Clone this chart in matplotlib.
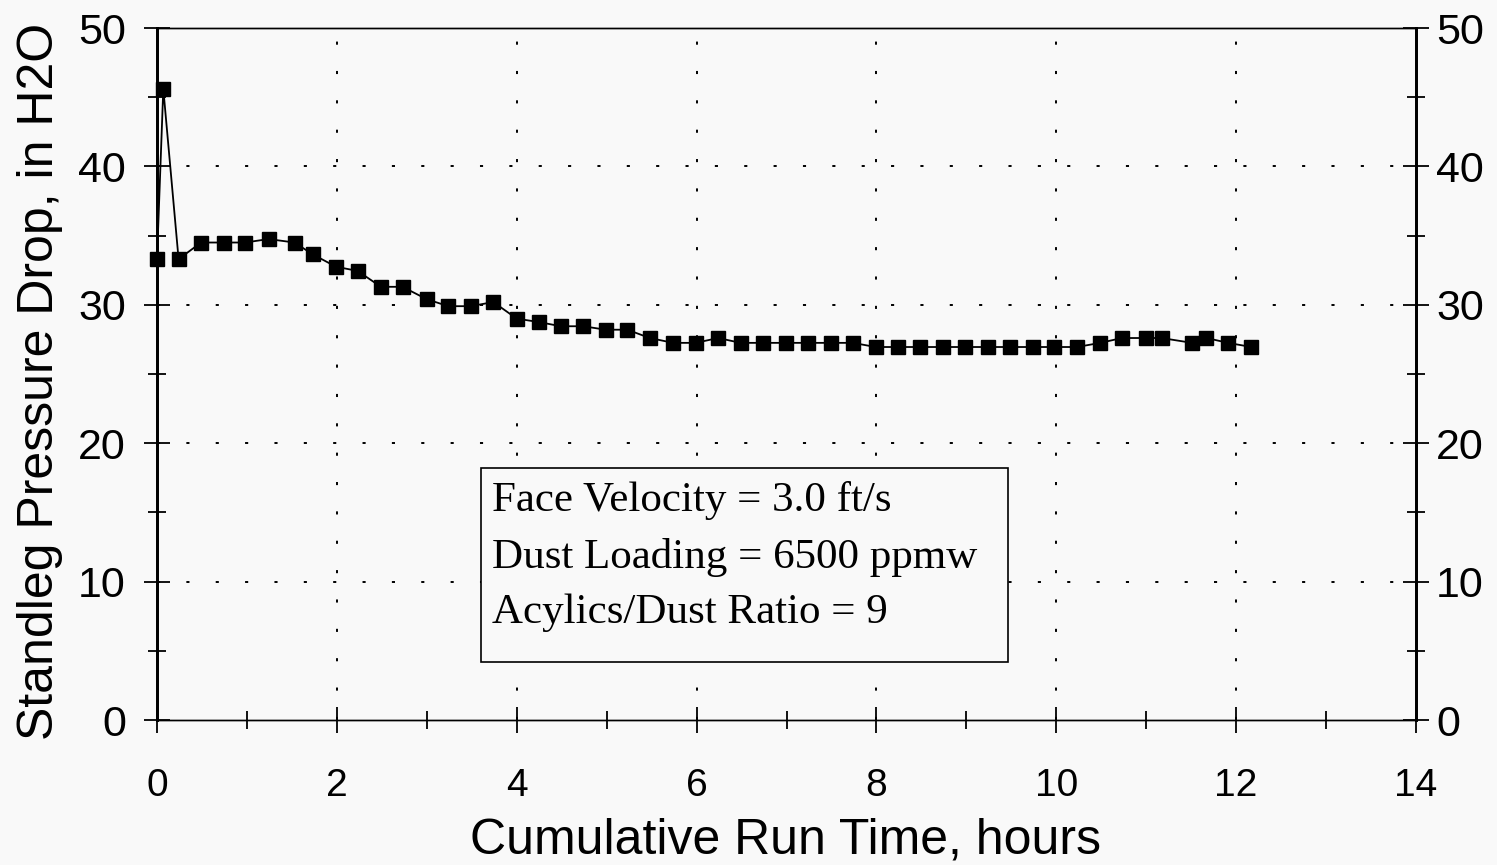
import numpy as np
import matplotlib
matplotlib.use('Agg')
import matplotlib.pyplot as plt
from matplotlib.ticker import MultipleLocator
from matplotlib.patches import Rectangle

# Standleg pressure drop readings over the run
run_hours = [0.00, 0.07, 0.24, 0.49, 0.74, 0.98, 1.24, 1.53, 1.73, 1.99,
             2.23, 2.49, 2.73, 3.00, 3.24, 3.49, 3.74, 4.00, 4.25, 4.49,
             4.74, 4.99, 5.23, 5.48, 5.74, 5.99, 6.24, 6.49, 6.74, 6.99,
             7.24, 7.49, 7.74, 7.99, 8.24, 8.49, 8.74, 8.99, 9.24, 9.49,
             9.74, 9.98, 10.23, 10.49, 10.73, 11.00, 11.17, 11.51, 11.67,
             11.91, 12.17]
pressure_drop = [33.3, 45.6, 33.3, 34.5, 34.5, 34.5, 34.75, 34.5, 33.65, 32.75,
                 32.45, 31.3, 31.3, 30.4, 29.9, 29.9, 30.2, 29.0, 28.75, 28.45,
                 28.45, 28.2, 28.2, 27.6, 27.25, 27.25, 27.6, 27.25, 27.25, 27.25,
                 27.25, 27.25, 27.25, 26.95, 26.95, 26.95, 26.95, 26.95, 26.95, 26.95,
                 26.95, 26.95, 26.95, 27.25, 27.6, 27.6, 27.6, 27.25, 27.6,
                 27.25, 26.95]

conditions = ['Face Velocity = 3.0 ft/s',
              'Dust Loading = 6500 ppmw',
              'Acylics/Dust Ratio = 9']

W, H = 1497, 865
bg = '#f9f9f9'
fig = plt.figure(figsize=(W / 100, H / 100), dpi=100, facecolor=bg)
ax = fig.add_axes([157 / W, 1 - 720 / H, (1416 - 157) / W, (720 - 28) / H])
ax.set_facecolor(bg)

ax.plot(run_hours, pressure_drop, color='black', linewidth=1.3,
        marker='s', markersize=10, markerfacecolor='black',
        markeredgecolor='black', clip_on=False, zorder=3)

ax.set_xlim(0, 14)
ax.set_ylim(0, 50)
ax.xaxis.set_major_locator(MultipleLocator(2))
ax.xaxis.set_minor_locator(MultipleLocator(1))
ax.yaxis.set_major_locator(MultipleLocator(10))
ax.yaxis.set_minor_locator(MultipleLocator(5))

# dotted grid, only on the interior major lines
for gx in range(2, 14, 2):
    ax.axvline(gx, color='black', linewidth=1.4, linestyle=(0, (1.6, 13.5)), zorder=1)
for gy in range(10, 50, 10):
    ax.axhline(gy, color='black', linewidth=1.4, linestyle=(0, (1.6, 13.5)), zorder=1)

# right-hand scale repeats the left one
ax_r = ax.twinx()
ax_r.set_ylim(ax.get_ylim())
ax_r.yaxis.set_major_locator(MultipleLocator(10))
ax_r.yaxis.set_minor_locator(MultipleLocator(5))

for a in (ax, ax_r):
    for side in ['left', 'right']:
        a.spines[side].set_linewidth(2.0)
    for side in ['top', 'bottom']:
        a.spines[side].set_linewidth(1.0)
    a.tick_params(which='major', direction='inout', length=19, width=1.3, color='black')
    a.tick_params(which='minor', direction='inout', length=13, width=1.3, color='black')

ax.tick_params(axis='x', which='both', top=False)
ax.tick_params(axis='x', which='major', pad=25, labelsize=28)
ax.tick_params(axis='y', which='both', right=False)
ax.tick_params(axis='y', which='major', labelsize=31, pad=13)
ax_r.tick_params(axis='y', which='major', labelsize=31, pad=5)
for lbl in ax.get_yticklabels() + ax.get_xticklabels() + ax_r.get_yticklabels():
    lbl.set_fontfamily('Liberation Sans')

fig.text(53 / W, 1 - 381 / H, 'Standleg Pressure Drop, in H2O', rotation=90,
         rotation_mode='anchor', ha='center', va='baseline',
         fontsize=36, family='Liberation Sans')
fig.text(786 / W, 1 - 853 / H, 'Cumulative Run Time, hours',
         ha='center', va='baseline', fontsize=36, family='Liberation Sans')

# conditions box
ax.add_patch(Rectangle((0.2573, 0.0838), 0.4186, 0.2803, transform=ax.transAxes,
                       facecolor=bg, edgecolor='black', linewidth=1.2, zorder=4))
for i, line in enumerate(conditions):
    ax.text(0.266, 0.3165 - i * 0.0810, line, transform=ax.transAxes,
            ha='left', va='center', fontsize=31, family='Liberation Serif', zorder=5)

fig.savefig('out.png', dpi=100, facecolor=bg)
